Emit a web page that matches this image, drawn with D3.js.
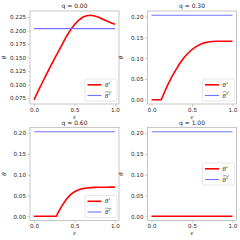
<!DOCTYPE html>
<html>
<head>
<meta charset="utf-8">
<script src="https://cdn.jsdelivr.net/npm/d3@7"></script>
<style>
  body { margin: 0; background: #fff; }
  text { font-family: "DejaVu Sans", sans-serif; }
</style>
</head>
<body>
<div id="chart"></div>
<script>
// panel titles
const qValues = ["0.00", "0.30", "0.60", "1.00"];

// theta~* (flat blue line), same in every panel
const thetaTilde = 0.2035;

// eps samples and theta* per panel
const eps0 = [0, 0.05, 0.1, 0.15, 0.2, 0.25, 0.3, 0.35, 0.4, 0.45, 0.5, 0.55, 0.6, 0.65, 0.7, 0.75, 0.8, 0.85, 0.9, 0.95, 1.0];
const theta0 = [0.072, 0.088, 0.103, 0.118, 0.133, 0.147, 0.161, 0.175, 0.189, 0.201, 0.211, 0.219, 0.2245, 0.2275, 0.2283, 0.227, 0.2245, 0.221, 0.2175, 0.2145, 0.2115];

const eps1 = [0, 0.05, 0.1, 0.12, 0.15, 0.2, 0.25, 0.3, 0.35, 0.4, 0.45, 0.5, 0.55, 0.6, 0.65, 0.7, 0.75, 0.8, 0.85, 0.9, 0.95, 1.0];
const theta1 = [0, 0, 0, 0, 0.014, 0.036, 0.055, 0.072, 0.088, 0.101, 0.112, 0.121, 0.128, 0.133, 0.137, 0.1392, 0.1403, 0.1408, 0.141, 0.141, 0.141, 0.141];

const eps2 = [0, 0.05, 0.1, 0.15, 0.2, 0.25, 0.275, 0.3, 0.35, 0.4, 0.45, 0.5, 0.55, 0.6, 0.65, 0.7, 0.75, 0.8, 0.85, 0.9, 0.95, 1.0];
const theta2 = [0, 0, 0, 0, 0, 0, 0, 0.010, 0.027, 0.041, 0.052, 0.059, 0.064, 0.0665, 0.068, 0.069, 0.0695, 0.0698, 0.07, 0.07, 0.0702, 0.0702];

const eps3 = [0, 0.25, 0.5, 0.75, 1.0];
const theta3 = [0, 0, 0, 0, 0];

const xTicks = [0, 0.5, 1.0];
const yTicks0 = [0.075, 0.1, 0.125, 0.15, 0.175, 0.2, 0.225];
const yTicks = [0, 0.05, 0.1, 0.15, 0.2];

const panels = [
  { q: qValues[0], eps: eps0, theta: theta0, ticks: yTicks0, fmt: ".3f", x: 30, y: 11, legend: "lower" },
  { q: qValues[1], eps: eps1, theta: theta1, ticks: yTicks, fmt: ".2f", x: 147.5, y: 11, legend: "lower" },
  { q: qValues[2], eps: eps2, theta: theta2, ticks: yTicks, fmt: ".2f", x: 30, y: 127.5, legend: "lower" },
  { q: qValues[3], eps: eps3, theta: theta3, ticks: yTicks, fmt: ".2f", x: 147.5, y: 127.5, legend: "center" }
];

const W = 89, H = 93;
const spine = "#b0b0b0";
const ink = "#262626";
const red = "#ff0000";
const blue = "#7373ff";

const svg = d3.select("#chart").append("svg")
  .attr("width", 240)
  .attr("height", 240);

panels.forEach(p => {
  const g = svg.append("g").attr("transform", `translate(${p.x},${p.y})`);

  const x = d3.scaleLinear().domain([-0.05, 1.05]).range([0, W]);
  const lo = Math.min(d3.min(p.theta), thetaTilde);
  const hi = Math.max(d3.max(p.theta), thetaTilde);
  const pad = (hi - lo) * 0.05;
  const y = d3.scaleLinear().domain([lo - pad, hi + pad]).range([H, 0]);

  // axes
  const xAxis = g.append("g").attr("transform", `translate(0,${H})`)
    .call(d3.axisBottom(x).tickValues(xTicks).tickFormat(d3.format(".1f")).tickSize(2.5).tickPadding(1.5));
  const yAxis = g.append("g")
    .call(d3.axisLeft(y).tickValues(p.ticks).tickFormat(d3.format(p.fmt)).tickSize(2.5).tickPadding(1.5));
  [xAxis, yAxis].forEach(a => {
    a.select(".domain").remove();
    a.selectAll(".tick line").attr("stroke", spine).attr("stroke-width", 0.6);
    a.selectAll(".tick text").attr("fill", ink)
      .style("font-size", "5.6px").style("font-family", "DejaVu Sans");
  });

  // frame
  g.append("rect").attr("width", W).attr("height", H)
    .attr("fill", "none").attr("stroke", spine).attr("stroke-width", 0.7);

  // lines
  const line = d3.line().x((d, i) => x(p.eps[i])).y(d => y(d));
  g.append("path").datum(p.theta)
    .attr("d", line).attr("fill", "none")
    .attr("stroke", red).attr("stroke-width", 1.6);
  g.append("line")
    .attr("x1", x(0)).attr("x2", x(1))
    .attr("y1", y(thetaTilde)).attr("y2", y(thetaTilde))
    .attr("stroke", blue).attr("stroke-width", 1.1);

  // title and labels
  g.append("text").attr("x", W / 2).attr("y", -3)
    .attr("text-anchor", "middle").attr("fill", ink)
    .style("font-size", "6px").text("q = " + p.q);
  g.append("text").attr("x", W / 2).attr("y", H + 14.5)
    .attr("text-anchor", "middle").attr("fill", ink)
    .style("font-size", "5.5px").style("font-style", "italic").text("ε");
  g.append("text")
    .attr("transform", `translate(-24.5,${H / 2}) rotate(-90)`)
    .attr("text-anchor", "middle").attr("fill", ink)
    .style("font-size", "5.5px").style("font-style", "italic").text("θ");

  // legend
  const lw = 32, lh = 22;
  const ly = p.legend === "lower" ? H - lh - 3 : H / 2 - lh / 2;
  const lg = g.append("g").attr("transform", `translate(${W - lw - 2},${ly})`);
  lg.append("rect").attr("width", lw).attr("height", lh).attr("rx", 1.5)
    .attr("fill", "#fff").attr("fill-opacity", 0.8)
    .attr("stroke", "#d6d6d6").attr("stroke-width", 0.6);
  [[red, 1.6, 5.8], [blue, 1.1, 16.5]].forEach(([c, sw, yy], i) => {
    lg.append("line").attr("x1", 2.5).attr("x2", 16.5).attr("y1", yy).attr("y2", yy)
      .attr("stroke", c).attr("stroke-width", sw);
    const t = lg.append("text").attr("x", 20).attr("y", yy + 2)
      .attr("fill", ink).style("font-size", "5.5px").style("font-style", "italic");
    t.append("tspan").text("θ");
    t.append("tspan").attr("dy", -2).style("font-size", "4px").style("font-style", "normal").text("*");
    if (i === 1) {
      // wide tilde over theta*
      lg.append("path")
        .attr("d", `M20.3,${yy - 3.3} q1.6,-1.4 3.2,-0.3 t3.2,-0.3`)
        .attr("fill", "none").attr("stroke", ink).attr("stroke-width", 0.45);
    }
  });
});
</script>
</body>
</html>
